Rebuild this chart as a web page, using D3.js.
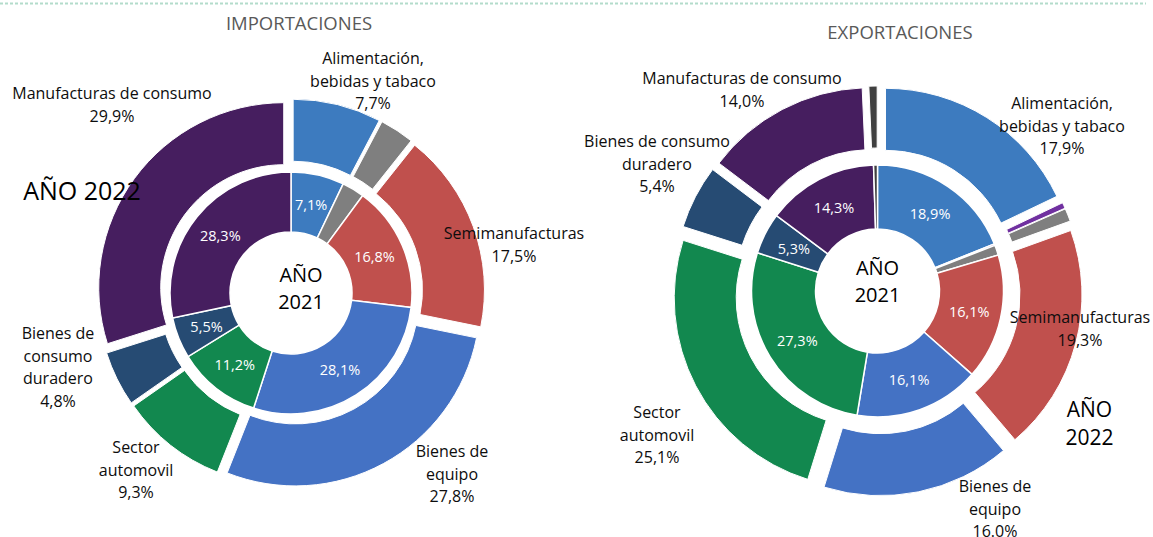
<!DOCTYPE html>
<html lang="es">
<head>
<meta charset="UTF-8">
<title>Importaciones y exportaciones por sectores</title>
<script src="https://cdn.jsdelivr.net/npm/d3@7"></script>
<style>
    body { margin: 0; background: #fff; }
    svg { display: block; font-family: 'Open Sans', sans-serif; }
    .title { font-size: 18.5px; fill: #595959; text-anchor: middle; }
    .lbl { font-size: 16px; fill: #0d0d0d; text-anchor: middle; }
    .inner-lbl { font-size: 14.5px; fill: #fff; text-anchor: middle; }
    .year { font-size: 21px; fill: #000; text-anchor: middle; }
</style>
</head>
<body>
<svg id="chart" width="1153" height="537"></svg>
<script>
// sectores, en el orden en que Excel los reparte (desde las 12 en sentido horario)
const categories = [
    'Alimentación, bebidas y tabaco',
    'Productos energéticos',
    'Materias primas',
    'Semimanufacturas',
    'Bienes de equipo',
    'Sector automovil',
    'Bienes de consumo duradero',
    'Manufacturas de consumo',
    'Otras mercancías'
];
const colors = ['#3d7bbf', '#7030a0', '#7f7f7f', '#c0504d', '#4472c4', '#12884f', '#264b73', '#461e5f', '#404040'];

// % sobre el total
const imp2022 = [7.7, 0, 3.0, 17.5, 27.8, 9.3, 4.8, 29.9, 0];
const imp2021 = [7.1, 0, 3.0, 16.8, 28.1, 11.2, 5.5, 28.3, 0];
const exp2022 = [17.9, 0.5, 1.1, 19.3, 16.0, 25.1, 5.4, 14.0, 0.7];
const exp2021 = [18.9, 0.2, 1.3, 16.1, 16.1, 27.3, 5.3, 14.3, 0.5];

// texto de las etiquetas exteriores (sin el porcentaje)
const impNames = {
    0: ['Alimentación,', 'bebidas y tabaco'],
    3: ['Semimanufacturas'],
    4: ['Bienes de', 'equipo'],
    5: ['Sector', 'automovil'],
    6: ['Bienes de', 'consumo', 'duradero'],
    7: ['Manufacturas de consumo']
};
const expNames = {
    0: ['Alimentación,', 'bebidas y tabaco'],
    3: ['Semimanufacturas'],
    4: ['Bienes de', 'equipo'],
    5: ['Sector', 'automovil'],
    6: ['Bienes de consumo', 'duradero'],
    7: ['Manufacturas de consumo']
};

const svg = d3.select('#chart');
const fmtComma = v => d3.format('.1f')(v).replace('.', ',') + '%';
const fmtDot = v => d3.format('.1f')(v) + '%';

// linea punteada superior
svg.append('line')
    .attr('x1', 0).attr('x2', 1146)
    .attr('y1', 3.5).attr('y2', 3.5)
    .attr('stroke', '#b3dccb')
    .attr('stroke-width', 2)
    .attr('stroke-dasharray', '3,2');

function drawDonut(cfg) {
    const g = svg.append('g').attr('transform', `translate(${cfg.cx},${cfg.cy})`);
    const pie = d3.pie().sort(null).value(d => d.v).startAngle(0).endAngle(2 * Math.PI);

    const innerData = pie(cfg.inner.map((v, i) => ({ v, i }))).filter(d => d.data.v > 0);
    const outerData = pie(cfg.outer.map((v, i) => ({ v, i }))).filter(d => d.data.v > 0);

    const innerArc = d3.arc().innerRadius(cfg.r0).outerRadius(cfg.r1);
    const outerArc = d3.arc().innerRadius(cfg.r2).outerRadius(cfg.r3);

    g.selectAll('.in')
        .data(innerData)
        .enter()
        .append('path')
        .attr('d', innerArc)
        .attr('fill', d => colors[d.data.i])
        .attr('stroke', '#fff')
        .attr('stroke-width', 1.5);

    // anillo exterior separado (explode)
    g.selectAll('.out')
        .data(outerData)
        .enter()
        .append('path')
        .attr('d', outerArc)
        .attr('transform', d => {
            const a = (d.startAngle + d.endAngle) / 2;
            return `translate(${cfg.explode * Math.sin(a)},${-cfg.explode * Math.cos(a)})`;
        })
        .attr('fill', d => colors[d.data.i])
        .attr('stroke', '#fff')
        .attr('stroke-width', 1);

    // porcentajes del anillo interior
    g.selectAll('.inlbl')
        .data(innerData.filter(d => d.data.v > 4))
        .enter()
        .append('text')
        .attr('class', 'inner-lbl')
        .attr('dominant-baseline', 'central')
        .attr('transform', d => `translate(${innerArc.centroid(d)})`)
        .text(d => fmtComma(d.data.v));

    // etiquetas exteriores
    Object.keys(cfg.names).forEach(k => {
        const i = +k;
        const pos = cfg.labelPos[i];
        const fmt = (cfg.dotLabels || []).includes(i) ? fmtDot : fmtComma;
        const lines = cfg.names[i].concat([fmt(cfg.outer[i])]);
        const t = g.append('text')
            .attr('class', 'lbl')
            .attr('dominant-baseline', 'central');
        lines.forEach((s, j) => {
            t.append('tspan')
                .attr('x', pos[0])
                .attr('y', pos[1] + j * 22.5)
                .text(s);
        });
    });

    // textos de año
    cfg.yearTexts.forEach(y => {
        const t = g.append('text')
            .attr('class', 'year')
            .attr('dominant-baseline', 'central')
            .style('font-size', y.size + 'px');
        y.lines.forEach((s, j) => {
            t.append('tspan')
                .attr('x', y.x)
                .attr('y', y.y + j * y.gap)
                .text(s);
        });
    });

    svg.append('text')
        .attr('class', 'title')
        .attr('x', cfg.title.x)
        .attr('y', cfg.title.y)
        .attr('dominant-baseline', 'central')
        .text(cfg.title.text);
}

drawDonut({
    cx: 291, cy: 293,
    r0: 61, r1: 121, r2: 123, r3: 185, explode: 9,
    inner: imp2021, outer: imp2022, names: impNames,
    labelPos: { 0: [82, -235], 3: [223, -60], 4: [161, 158], 5: [-155, 154], 6: [-233, 40], 7: [-179, -200] },
    yearTexts: [
        { lines: ['AÑO', '2021'], x: 10, y: -19, gap: 27, size: 20 },
        { lines: ['AÑO 2022'], x: -209, y: -103, gap: 0, size: 25 }
    ],
    title: { text: 'IMPORTACIONES', x: 299, y: 22 }
});

drawDonut({
    cx: 877.5, cy: 291,
    r0: 62, r1: 126, r2: 128, r3: 190, explode: 15,
    inner: exp2021, outer: exp2022, names: expNames,
    dotLabels: [4],
    labelPos: { 0: [184.5, -188], 3: [202.5, 26], 4: [117.5, 195], 5: [-220.5, 121], 6: [-220.5, -150], 7: [-135.5, -213] },
    yearTexts: [
        { lines: ['AÑO', '2021'], x: 0, y: -24, gap: 27, size: 20 },
        { lines: ['AÑO', '2022'], x: 212, y: 118, gap: 28, size: 21 }
    ],
    title: { text: 'EXPORTACIONES', x: 900, y: 31 }
});
</script>
</body>
</html>
